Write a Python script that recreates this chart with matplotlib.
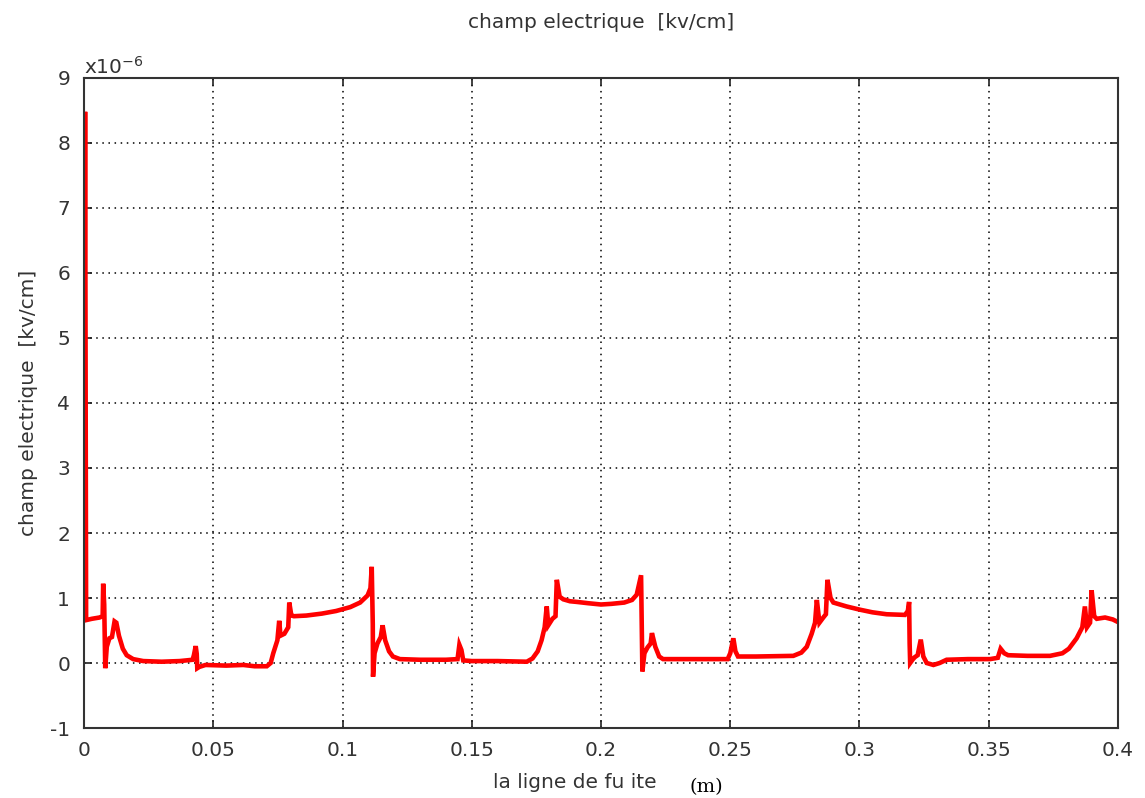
import matplotlib
matplotlib.use("Agg")
import matplotlib.pyplot as plt

plt.rcParams["axes.unicode_minus"] = False

# field along the creepage path (x in m, E in 1e-6 kv/cm)
x_pos = [0.0, 0.0004, 0.0008, 0.003, 0.006, 0.0072, 0.0074, 0.0078, 0.0082, 0.0088,
         0.0098, 0.0108, 0.0118, 0.0125, 0.0135, 0.0150, 0.0165, 0.019, 0.0229, 0.030,
         0.037, 0.042, 0.0425, 0.0432, 0.0436, 0.0438, 0.0446, 0.047, 0.055, 0.0616,
         0.066, 0.0707, 0.0722, 0.0732, 0.0748, 0.0755, 0.0760, 0.0775, 0.0790, 0.0794,
         0.0802, 0.0812, 0.086, 0.092, 0.0975, 0.1030, 0.1068, 0.1097, 0.1108, 0.1113,
         0.1117, 0.1118, 0.1124, 0.1135, 0.1148, 0.1155, 0.1165, 0.1180, 0.1195, 0.1222,
         0.130, 0.140, 0.1445, 0.1452, 0.1460, 0.1467, 0.150, 0.160, 0.1713, 0.1735,
         0.1755, 0.1770, 0.1782, 0.1790, 0.1796, 0.1812, 0.1824, 0.1829, 0.1840, 0.1854,
         0.1880, 0.1906, 0.195, 0.200, 0.2040, 0.2090, 0.2120, 0.2138, 0.2155, 0.2158,
         0.2160, 0.2168, 0.2180, 0.2192, 0.2197, 0.2210, 0.2225, 0.2240, 0.235, 0.2490,
         0.2500, 0.2512, 0.2520, 0.2530, 0.260, 0.2744, 0.2775, 0.2796, 0.2815, 0.2828,
         0.2835, 0.2845, 0.2860, 0.2870, 0.2876, 0.2888, 0.2899, 0.2950, 0.3002, 0.3050,
         0.3105, 0.3176, 0.3187, 0.3192, 0.3194, 0.3196, 0.3205, 0.3214, 0.3225, 0.3237,
         0.3247, 0.3260, 0.3286, 0.3310, 0.3337, 0.342, 0.3505, 0.3535, 0.3546, 0.3560,
         0.3575, 0.365, 0.3737, 0.3785, 0.3810, 0.3840, 0.3862, 0.3872, 0.3880, 0.3892,
         0.3898, 0.3908, 0.3918, 0.3950, 0.3980, 0.4000]
e_field = [1.6, 8.48, 0.66, 0.68, 0.70, 0.72, 1.22, 0.9, -0.08, 0.25,
           0.38, 0.40, 0.64, 0.62, 0.42, 0.22, 0.12, 0.06, 0.03, 0.02,
           0.03, 0.05, 0.12, 0.26, 0.14, -0.08, -0.06, -0.03, -0.04, -0.03,
           -0.05, -0.05, 0.0, 0.15, 0.35, 0.65, 0.42, 0.45, 0.55, 0.93,
           0.73, 0.72, 0.73, 0.76, 0.80, 0.86, 0.93, 1.04, 1.15, 1.48,
           0.6, -0.21, 0.15, 0.3, 0.40, 0.58, 0.35, 0.18, 0.10, 0.06,
           0.05, 0.05, 0.06, 0.28, 0.20, 0.04, 0.03, 0.03, 0.02, 0.07,
           0.18, 0.35, 0.55, 0.87, 0.58, 0.68, 0.72, 1.28, 1.02, 0.98,
           0.95, 0.94, 0.92, 0.90, 0.91, 0.93, 0.97, 1.05, 1.35, 0.5,
           -0.13, 0.15, 0.24, 0.30, 0.46, 0.25, 0.10, 0.06, 0.06, 0.06,
           0.15, 0.38, 0.18, 0.10, 0.10, 0.11, 0.16, 0.25, 0.45, 0.62,
           0.97, 0.62, 0.70, 0.75, 1.28, 1.0, 0.93, 0.87, 0.82, 0.78,
           0.75, 0.74, 0.80, 0.94, 0.3, 0.0, 0.05, 0.09, 0.12, 0.36,
           0.10, 0.0, -0.03, 0.0, 0.05, 0.06, 0.06, 0.08, 0.22, 0.15,
           0.12, 0.11, 0.11, 0.15, 0.22, 0.38, 0.55, 0.87, 0.55, 0.62,
           1.12, 0.72, 0.68, 0.70, 0.67, 0.63]

x_ticks = [0, 0.05, 0.1, 0.15, 0.2, 0.25, 0.3, 0.35, 0.4]
x_tick_labels = ["0", "0.05", "0.1", "0.15", "0.2", "0.25", "0.3", "0.35", "0.4"]
y_ticks = list(range(-1, 10))

txt = "#333333"
fs = 14.5

fig = plt.figure(figsize=(11.45, 7.98), dpi=100)
ax = fig.add_axes([0.0734, 0.0877, 0.903, 0.8146])

ax.plot(x_pos, e_field, color="#ff0000", lw=3.3, solid_joinstyle="miter")

ax.set_xlim(0, 0.4)
ax.set_ylim(-1, 9)
ax.set_xticks(x_ticks)
ax.set_xticklabels(x_tick_labels)
ax.set_yticks(y_ticks)
ax.grid(True, color="black", linestyle=(0, (1, 3)), linewidth=1.1)

ax.tick_params(direction="in", top=True, right=True, length=6, width=1.2,
               labelsize=fs, labelcolor=txt, color="#222222")
ax.tick_params(axis="x", pad=9)
ax.tick_params(axis="y", pad=10)
for sp in ax.spines.values():
    sp.set_color("#333333")
    sp.set_linewidth(1.5)

fig.text(0.525, 0.972, "champ electrique  [kv/cm]", fontsize=fs, color=txt,
         ha="center", va="center")
ax.set_ylabel("champ electrique  [kv/cm]", fontsize=fs, color=txt, labelpad=9)
ax.set_xlabel("la ligne de fu ite", fontsize=fs, color=txt)
ax.xaxis.set_label_coords(0.475, -0.069)

# unit tag after the axis label, in a serif face
fig.text(0.6025, 0.008, "(m)", fontsize=14, family="DejaVu Serif", color="black")

# exponent marker above the y axis
ax.text(0.0, 1.0, r"x10$^{\mathregular{-6}}$", transform=ax.transAxes,
        fontsize=fs, color=txt, ha="left", va="bottom")

fig.savefig("out.png", dpi=100)
